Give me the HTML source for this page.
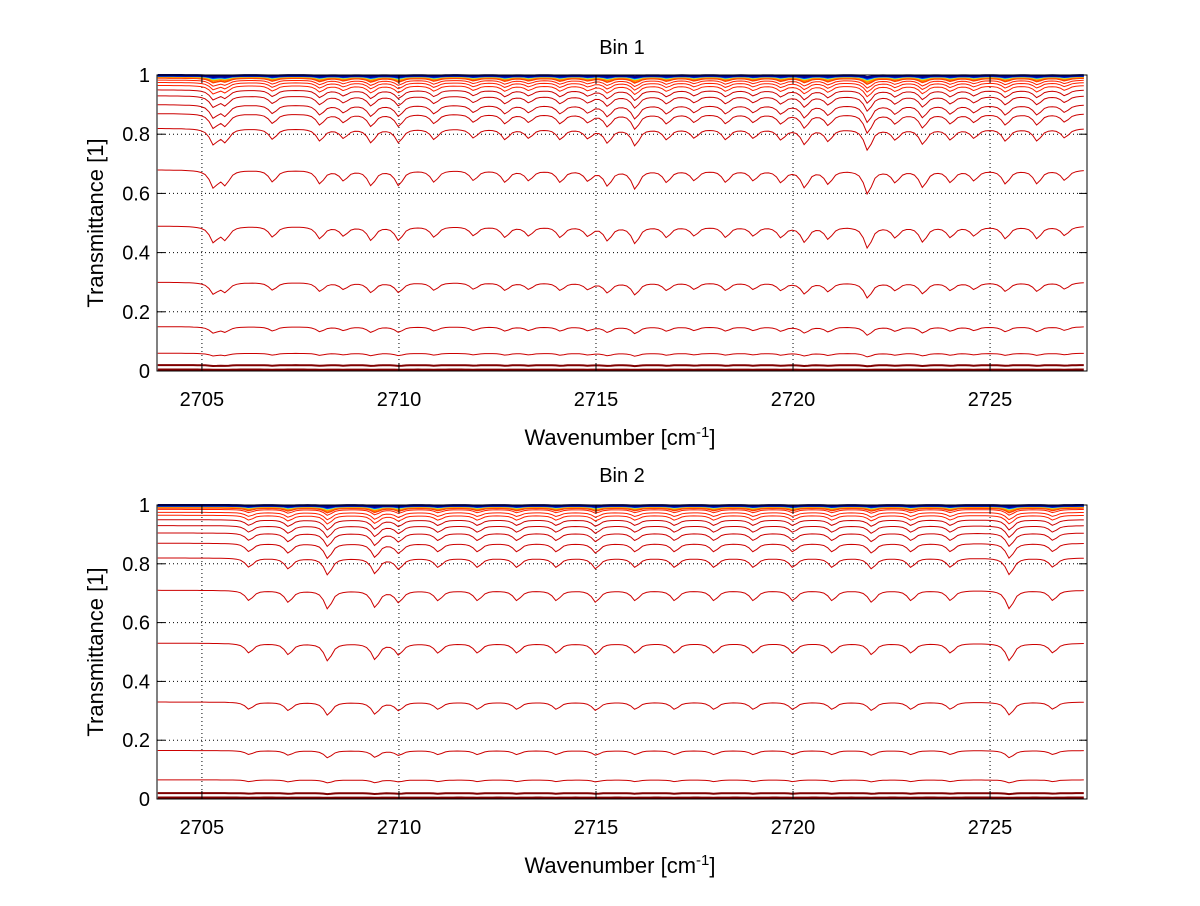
<!DOCTYPE html>
<html><head><meta charset="utf-8">
<style>
body{margin:0;background:#fff;}
svg text{font-family:"Liberation Sans",sans-serif;fill:#000;}
</style></head>
<body>
<svg id="chart" width="1200" height="901" xmlns="http://www.w3.org/2000/svg"></svg>
<script>
// ---- data ----
const xTicks = [2705, 2710, 2715, 2720, 2725];
const yTicks = [0, 0.2, 0.4, 0.6, 0.8, 1];
const yTickLabels = ["0", "0.2", "0.4", "0.6", "0.8", "1"];
// absorption line centres (cm-1) and relative strengths
const bin1Lines = [2705.3,2705.6,2706.8,2708.0,2708.6,2709.3,2710.0,2710.9,2711.9,2712.7,2713.3,2714.1,2714.8,2715.3,2716.0,2716.8,2717.5,2718.3,2719.0,2719.7,2720.3,2720.9,2721.9,2722.6,2723.3,2724.0,2724.6,2725.4,2726.2,2726.9];
const bin1Depth = [0.5,0.4,0.35,0.4,0.3,0.45,0.45,0.35,0.3,0.35,0.3,0.35,0.3,0.45,0.55,0.35,0.3,0.35,0.3,0.35,0.5,0.4,0.7,0.35,0.5,0.35,0.3,0.4,0.4,0.3];
const bin1Levels = [0.005,0.02,0.06,0.15,0.30,0.49,0.68,0.82,0.87,0.90,0.93,0.95,0.965,0.975,0.983,0.99];
const bin2Lines = [2706.2,2707.2,2708.2,2709.4,2710.0,2711.0,2712.0,2713.0,2714.0,2715.0,2716.0,2717.0,2718.0,2719.0,2720.0,2721.0,2722.0,2723.0,2724.0,2725.5,2726.6];
const bin2Depth = [0.3,0.35,0.55,0.5,0.35,0.3,0.3,0.3,0.3,0.35,0.3,0.3,0.3,0.3,0.3,0.3,0.35,0.3,0.3,0.55,0.3];
const bin2Levels = [0.005,0.02,0.065,0.165,0.33,0.53,0.71,0.82,0.87,0.905,0.93,0.95,0.965,0.975,0.985];
const topColors = ["#ff4000","#ff8000","#ffc000","#80ff80","#00c0ff","#0040ff","#00008f"];
const topLevels = [0.99,0.993,0.995,0.996,0.997,0.998,0.999];

const NS="http://www.w3.org/2000/svg";
const svg=document.getElementById('chart');
function el(t,a,p){const e=document.createElementNS(NS,t);for(const k in a)e.setAttribute(k,a[k]);(p||svg).appendChild(e);return e;}
const xMin=2703.86,xMax=2727.46,L=157,R=1087;
function xs(v){return L+(v-xMin)/(xMax-xMin)*(R-L);}

function panel(name,top,bot,lines,depth,levels,title,titleY){
  const g=el('g',{});
  
  
  const ys=v=>bot-(v)*(bot-top);
  xTicks.forEach(t=>{const l=el('line',{x1:xs(t),x2:xs(t),y1:top,y2:bot,stroke:'#000','stroke-width':1,'stroke-dasharray':'1,3'},g);});
  yTicks.forEach(t=>{const l=el('line',{x1:L,x2:R,y1:ys(t),y2:ys(t),stroke:'#000','stroke-width':1,'stroke-dasharray':'1,3'},g);});
  function dip(x){let s=0;for(let i=0;i<lines.length;i++){const d=(x-lines[i])/0.12;s+=depth[i]/(1+d*d);}return s;}
  function path(level,color,w){
    let d='';
    const A=0.3*level*Math.sqrt(1-level);
    for(let x=xMin+0.02;x<=xMax;x+=0.1){
      const v=level-A*dip(x);
      d+=(d?'L':'M')+xs(x).toFixed(1)+','+ys(v).toFixed(1);
    }
    const p=el('path',{d:d,fill:'none',stroke:color,'stroke-width':w},g);
    
    
  }
  levels.forEach(lv=>path(lv, lv<0.03?'#800000':(lv>0.95?'#ff2000':'#cc0000'), lv<0.03?2:1));
  topLevels.forEach((lv,i)=>path(lv,topColors[i],i>=5?2.5:1.5));
  const b=el('rect',{x:L,y:top,width:R-L,height:bot-top,fill:'none',stroke:'#000','stroke-width':1},g);
  
  xTicks.forEach(t=>{
    el('line',{x1:xs(t),x2:xs(t),y1:bot,y2:bot-8,stroke:'#000'},g);
    el('line',{x1:xs(t),x2:xs(t),y1:top,y2:top+8,stroke:'#000'},g);
    const tx=el('text',{x:xs(t),y:bot+35,'text-anchor':'middle','font-size':20},g);tx.textContent=t;
    
  });
  yTicks.forEach((t,i)=>{
    el('line',{x1:L,x2:L+8,y1:ys(t),y2:ys(t),stroke:'#000'},g);
    el('line',{x1:R,x2:R-8,y1:ys(t),y2:ys(t),stroke:'#000'},g);
    const tx=el('text',{x:L-7,y:ys(t)+7,'text-anchor':'end','font-size':20},g);tx.textContent=yTickLabels[i];
    
  });
  const tt=el('text',{x:622,y:titleY,'text-anchor':'middle','font-size':20},g);tt.textContent=title;
  
  const xl=el('text',{x:620,y:bot+74,'text-anchor':'middle','font-size':22},g);
  xl.innerHTML='Wavenumber [cm<tspan dy="-8" font-size="15">-1</tspan><tspan dy="8">]</tspan>';
  
  const yl=el('text',{x:0,y:0,'text-anchor':'middle','font-size':22,transform:`translate(103,${(top+bot)/2}) rotate(-90)`},g);
  yl.textContent='Transmittance [1]';
  
}
panel('bin-1-plot',75,371,bin1Lines,bin1Depth,bin1Levels,'Bin 1',54);
panel('bin-2-plot',505,799,bin2Lines,bin2Depth,bin2Levels,'Bin 2',482);
</script>
</body></html>
